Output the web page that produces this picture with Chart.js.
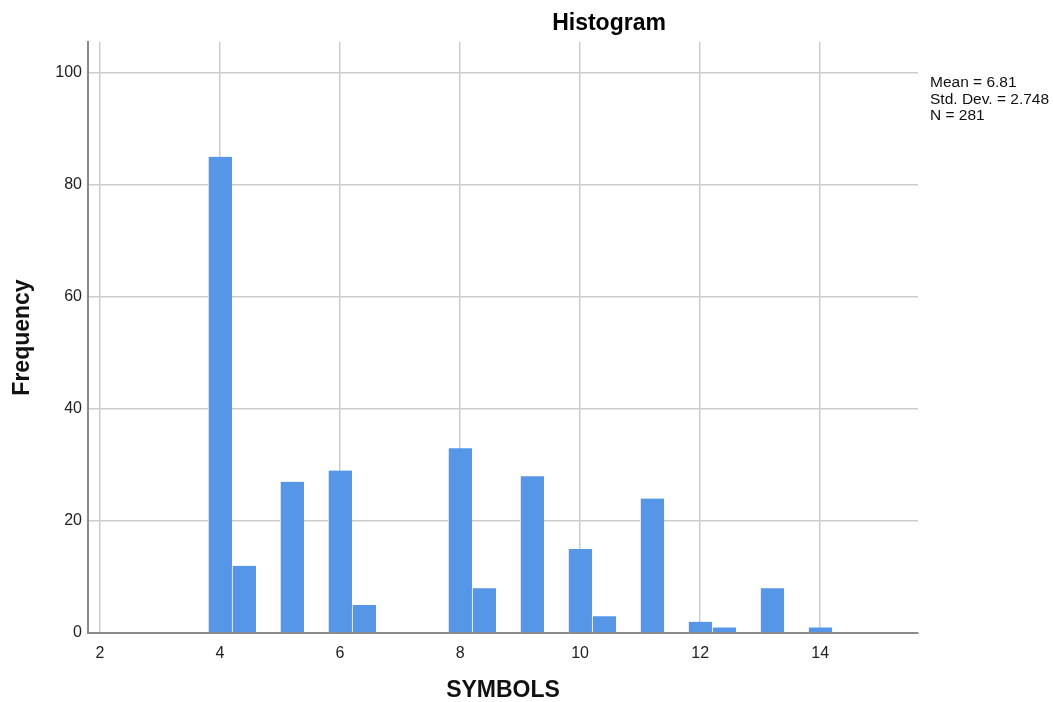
<!DOCTYPE html>
<html>
<head>
<meta charset="utf-8">
<script src="https://cdn.jsdelivr.net/npm/chart.js@4"></script>
<style>
  body { margin: 0; background: #fff; }
  canvas { display: block; }
</style>
</head>
<body>
<canvas id="myChart" width="1053" height="702"></canvas>
<script>
const ctx = document.getElementById("myChart").getContext("2d");

// histogram bins (left edge) and counts
const binStarts = [3.8, 4.2, 5.0, 5.8, 6.2, 7.8, 8.2, 9.0, 9.8, 10.2, 11.0, 11.8, 12.2, 13.0, 13.8];
const binWidth = 0.4;
const counts = [85, 12, 27, 29, 5, 33, 8, 28, 15, 3, 24, 2, 1, 8, 1];

const xTicks = [2, 4, 6, 8, 10, 12, 14];
const yTicks = [0, 20, 40, 60, 80, 100];
const statLines = ["Mean = 6.81", "Std. Dev. = 2.748", "N = 281"];

const font = "'Liberation Sans', Arial, sans-serif";

let bars = [];
for (let i = 0; i < binStarts.length; i++) {
  bars.push({ x: binStarts[i] + binWidth / 2, y: counts[i] });
}

// title and stats box, SPSS style
const textPlugin = {
  id: "spssText",
  afterDraw(chart) {
    const c = chart.ctx;
    c.save();
    c.fillStyle = "#000";
    c.font = "bold 23px " + font;
    c.textAlign = "center";
    c.textBaseline = "alphabetic";
    c.fillText("Histogram", 609, 30);
    c.font = "15.5px " + font;
    c.textAlign = "left";
    c.fillStyle = "#111";
    for (let i = 0; i < statLines.length; i++) {
      c.fillText(statLines[i], 930, 87 + i * 16.5);
    }
    c.restore();
  },
};

var myChart = new Chart(ctx, {
  type: "bar",
  data: {
    datasets: [
      {
        data: bars,
        backgroundColor: "#5596e6",
        borderColor: "#ffffff",
        borderWidth: { left: 1, top: 0, right: 0, bottom: 0 },
        borderSkipped: false,
        categoryPercentage: 1,
        barPercentage: 1,
      },
    ],
  },
  options: {
    responsive: false,
    devicePixelRatio: 1,
    animation: false,
    layout: {
      padding: { left: 0, right: 135, top: 42, bottom: 0 },
    },
    plugins: {
      legend: { display: false },
      tooltip: { enabled: false },
    },
    scales: {
      x: {
        type: "linear",
        min: 1.8,
        max: 15.63,
        offset: false,
        afterFit(scale) {
          scale.height = 69;
        },
        afterBuildTicks(scale) {
          scale.ticks = xTicks.map((v) => ({ value: v }));
        },
        grid: {
          color: "#cccccc",
          lineWidth: 1.5,
          drawTicks: false,
          offset: false,
        },
        border: { color: "#8a8a8a", width: 2 },
        ticks: {
          color: "#222",
          padding: 11,
          autoSkip: false,
          maxRotation: 0,
          font: { family: font, size: 16 },
        },
        title: {
          display: true,
          text: "SYMBOLS",
          color: "#111",
          padding: { top: 0, bottom: 0 },
          font: { family: font, size: 23, weight: "bold", lineHeight: 1 },
        },
      },
      y: {
        min: 0,
        max: 105.5,
        afterFit(scale) {
          scale.width = 88;
        },
        afterBuildTicks(scale) {
          scale.ticks = yTicks.map((v) => ({ value: v }));
        },
        grid: {
          color: "#cccccc",
          lineWidth: 1.5,
          drawTicks: false,
        },
        border: { color: "#8a8a8a", width: 2 },
        ticks: {
          color: "#222",
          padding: 6,
          font: { family: font, size: 16 },
        },
        title: {
          display: true,
          text: "Frequency",
          color: "#111",
          padding: { top: 11, bottom: 0 },
          font: { family: font, size: 23, weight: "bold", lineHeight: 1 },
        },
      },
    },
  },
  plugins: [textPlugin],
});
</script>
</body>
</html>
